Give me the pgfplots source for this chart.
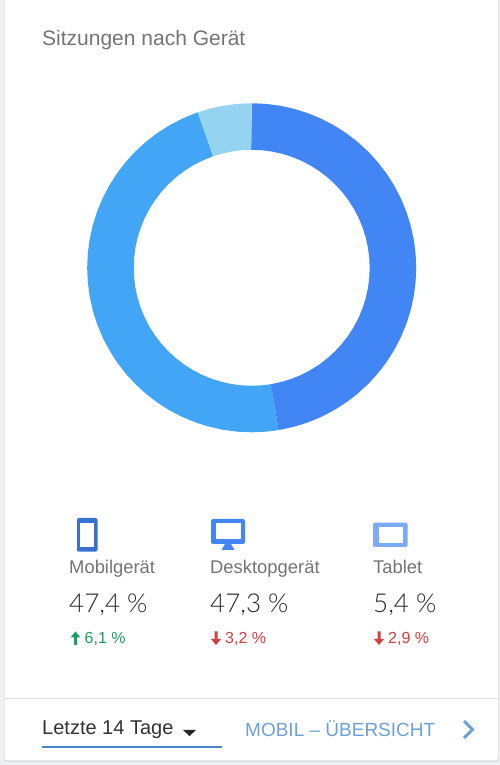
\documentclass[border=0pt]{standalone}
\usepackage{pgfplots}
\pgfplotsset{compat=1.18}
\usepgfplotslibrary{polar}
\usepackage{fontspec}
\setmainfont{Liberation Sans}
\newfontfamily\lightfont{Lato Light}
\definecolor{cmob}{HTML}{4285F4}
\definecolor{cdesk}{HTML}{42A5F5}
\definecolor{ctab}{HTML}{94D4F1}
\definecolor{cbg}{HTML}{EEF0F2}
\definecolor{ctitle}{HTML}{757575}
\definecolor{cnum}{HTML}{2B2B2B}
\definecolor{cgreen}{HTML}{1E9E60}
\definecolor{cred}{HTML}{D2403F}
\definecolor{clink}{HTML}{6FA0D8}
\definecolor{cline}{HTML}{4A86C8}
\begin{document}
\begin{tikzpicture}
\path[use as bounding box] (0,0) rectangle (500pt,765pt);
\begin{scope}[x=1pt,y=-1pt,yshift=764pt]
\fill[cbg] (0,-3) rectangle (500,768);
\fill[black!12] (3.5,-3) rectangle (499,761);
\fill[white,rounded corners=3pt] (4.5,-10) rectangle (498,759.5);
\draw[black!12,line width=1pt] (4.5,698) -- (498,698);
% title
\node[anchor=base west,inner sep=0,text=ctitle,font=\fontsize{21}{24}\selectfont] at (42,45) {Sitzungen nach Gerät};
% icons
\fill[fill=cmob!85!black,rounded corners=2pt] (77,517) rectangle (97.5,550.7);
\fill[white] (80.2,522) rectangle (94.2,546.5);
\fill[cmob,rounded corners=2pt] (211,518) rectangle (245,543);
\fill[white] (215.7,522) rectangle (240.7,538);
\fill[cmob] (225,543) -- (231,543) -- (234.5,549) -- (221.5,549) -- cycle;
\fill[cmob!70!white,rounded corners=2pt] (373,521.7) rectangle (407.7,546);
\fill[white] (379,526) rectangle (402.7,542.3);
% labels
\foreach \x/\a/\b in {69/Mobilgerät/{47,4 \%},210/Desktopgerät/{47,3 \%},373/Tablet/{5,4 \%}}{
  \node[anchor=base west,inner sep=0,text=ctitle,font=\fontsize{18.4}{20}\selectfont] at (\x,573) {\a};
  \node[anchor=base west,inner sep=0,text=cnum,font=\lightfont\fontsize{26}{32}\selectfont] at (\x,611.5) {\b};
}
\node[anchor=base west,inner sep=0,text=cgreen,font=\fontsize{16}{20}\selectfont] at (84.5,642.3) {6,1 \%};
\node[anchor=base west,inner sep=0,text=cred,font=\fontsize{16}{20}\selectfont] at (225,642.3) {3,2 \%};
\node[anchor=base west,inner sep=0,text=cred,font=\fontsize{16}{20}\selectfont] at (388,642.3) {2,9 \%};
% arrows
\fill[cgreen] (75.5,630.5) -- (80.5,636.5) -- (77,636.5) -- (77,644) -- (74,644) -- (74,636.5) -- (70.5,636.5) -- cycle;
\foreach \x in {216,379}{
\fill[cred] (\x-1.5,630.5) -- (\x+1.5,630.5) -- (\x+1.5,638) -- (\x+5,638) -- (\x,644) -- (\x-5,638) -- (\x-1.5,638) -- cycle;
}
% footer
\node[anchor=base west,inner sep=0,text=black!80,font=\fontsize{20}{22}\selectfont] at (42,734) {Letzte 14 Tage};
\fill[black!85] (183,729) -- (196,729) -- (189.5,735) -- cycle;
\fill[cline] (42,745) rectangle (222,747.5);
\node[anchor=base west,inner sep=0,text=clink,font=\fontsize{19}{22}\selectfont] at (245,735.5) {MOBIL – ÜBERSICHT};
\draw[clink,line width=3pt] (464,720) -- (472.5,728.5) -- (464,737);
\end{scope}
\begin{axis}[
  at={(251.7pt,497.2pt)},anchor=center,scale only axis,width=330pt,height=330pt,
  hide axis,xmin=-165,xmax=165,ymin=-165,ymax=165,clip=false,
  every axis plot/.append style={data cs=polar,no markers,line width=46.5pt,line join=round,line cap=butt}]
\addplot[cdesk] coordinates {(-80.6,141.25)(-80.8,141.25)(-85,141.25)(-90,141.25)(-95,141.25)(-100,141.25)(-105,141.25)(-110,141.25)(-115,141.25)(-120,141.25)(-125,141.25)(-130,141.25)(-135,141.25)(-140,141.25)(-145,141.25)(-150,141.25)(-155,141.25)(-160,141.25)(-165,141.25)(-170,141.25)(-175,141.25)(-180,141.25)(-185,141.25)(-190,141.25)(-195,141.25)(-200,141.25)(-205,141.25)(-210,141.25)(-215,141.25)(-220,141.25)(-225,141.25)(-230,141.25)(-235,141.25)(-240,141.25)(-245,141.25)(-250,141.25)(-250.7,141.25)(-250.9,141.25)};
\addplot[ctab] coordinates {(-250.9,141.25)(-251.1,141.25)(-255,141.25)(-260,141.25)(-265,141.25)(-269.8,141.25)(-270,141.25)};
\addplot[cmob] coordinates {(90,141.25)(89.8,141.25)(85,141.25)(80,141.25)(75,141.25)(70,141.25)(65,141.25)(60,141.25)(55,141.25)(50,141.25)(45,141.25)(40,141.25)(35,141.25)(30,141.25)(25,141.25)(20,141.25)(15,141.25)(10,141.25)(5,141.25)(0,141.25)(-5,141.25)(-10,141.25)(-15,141.25)(-20,141.25)(-25,141.25)(-30,141.25)(-35,141.25)(-40,141.25)(-45,141.25)(-50,141.25)(-55,141.25)(-60,141.25)(-65,141.25)(-70,141.25)(-75,141.25)(-80,141.25)(-80.4,141.25)(-80.6,141.25)};
\end{axis}
\end{tikzpicture}
\end{document}
